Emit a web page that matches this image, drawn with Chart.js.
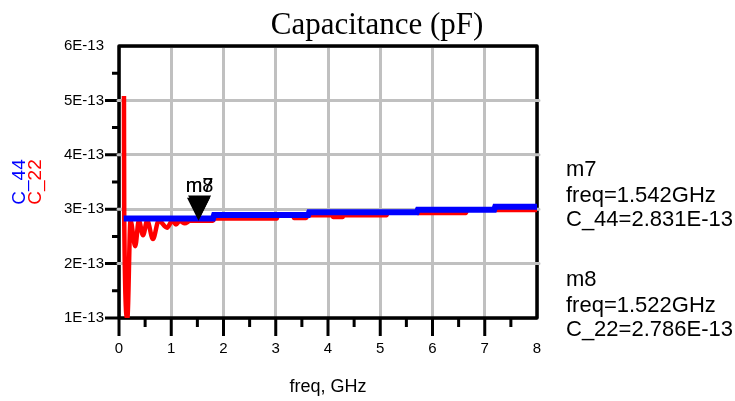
<!DOCTYPE html>
<html lang="en">
<head>
<meta charset="UTF-8">
<title>Capacitance (pF)</title>
<script src="https://cdn.jsdelivr.net/npm/chart.js@4.4.1/dist/chart.umd.min.js"></script>
<style>
  html, body { margin: 0; padding: 0; background: #ffffff; }
  #wrap { width: 735px; height: 401px; }
</style>
</head>
<body>
<div id="wrap"><canvas id="cap-chart" width="735" height="401"></canvas></div>
<script>
// capacitance values below are in units of 1E-13 F, frequency in GHz
const freqTicks = [0, 1, 2, 3, 4, 5, 6, 7, 8];
const capTicks = [1, 2, 3, 4, 5, 6];

const c44Freq = [0.09, 1.80, 1.82, 3.62, 3.64, 5.70, 5.72, 7.18, 7.20, 8.00];
const c44Val  = [2.831, 2.831, 2.894, 2.894, 2.946, 2.946, 2.992, 2.992, 3.047, 3.047];

const c22Freq = [0.095, 0.10, 0.16, 0.22, 0.31, 0.38, 0.46, 0.54, 0.65, 0.76, 0.92, 1.02, 1.09, 1.16, 1.26, 1.36,
                 1.80, 1.82, 3.02, 3.04, 3.33, 3.35, 3.58, 3.62, 4.08, 4.10, 4.28, 4.30, 5.12, 5.14,
                 5.70, 5.72, 6.64, 6.66, 7.20, 7.22, 8.00];
const c22Val  = [5.08, 2.79, 1.00, 2.79, 2.32, 2.79, 2.52, 2.79, 2.45, 2.79, 2.66, 2.79, 2.72, 2.786, 2.74, 2.786,
                 2.786, 2.83, 2.83, 2.894, 2.894, 2.84, 2.84, 2.89, 2.89, 2.855, 2.855, 2.89, 2.89, 2.946,
                 2.946, 2.93, 2.93, 2.992, 2.992, 2.985, 2.985];

const markers = [
  { name: 'm8', freq: 1.522, trace: 'C_22', value: 2.786, readY: 286 },
  { name: 'm7', freq: 1.542, trace: 'C_44', value: 2.831, readY: 176 }
];

const toPoints = (fs, vs) => fs.map((f, i) => ({ x: f, y: vs[i] }));
const sans = 'Liberation Sans, Arial, sans-serif';

// frame, tick marks, marker triangles and readouts
const adsFrame = {
  id: 'adsFrame',
  beforeDatasetsDraw(chart) {
    const { ctx, chartArea: a, scales: { x, y } } = chart;
    ctx.save();
    ctx.strokeStyle = '#000';
    ctx.lineWidth = 3.5;
    ctx.lineJoin = 'round';
    ctx.strokeRect(a.left, a.top, a.right - a.left, a.bottom - a.top);

    ctx.lineWidth = 3;
    ctx.lineCap = 'butt';
    ctx.beginPath();
    for (let v = 1; v < 6; v += 0.5) {
      const py = y.getPixelForValue(v);
      ctx.moveTo(a.left - (Number.isInteger(v) ? 14 : 7), py);
      ctx.lineTo(a.left, py);
    }
    for (let v = 0; v < 8; v += 0.5) {
      const px = x.getPixelForValue(v);
      ctx.moveTo(px, a.bottom);
      ctx.lineTo(px, a.bottom + (Number.isInteger(v) ? 18 : 9));
    }
    ctx.stroke();

    // grid stubs over the side frame
    ctx.strokeStyle = '#c0c0c0';
    ctx.lineCap = 'round';
    ctx.beginPath();
    for (let v = 2; v <= 5; v++) {
      const py = y.getPixelForValue(v);
      ctx.moveTo(a.left - 1, py); ctx.lineTo(a.left + 4, py);
      ctx.moveTo(a.right - 4, py); ctx.lineTo(a.right + 2, py);
    }
    ctx.stroke();
    ctx.restore();
  },
  afterDraw(chart) {
    const { ctx, scales: { x, y } } = chart;
    ctx.save();

    // title
    ctx.fillStyle = '#000';
    ctx.font = '31px "Liberation Serif", "Times New Roman", serif';
    ctx.textAlign = 'center';
    ctx.textBaseline = 'alphabetic';
    ctx.fillText('Capacitance (pF)', 377, 34);

    // trace names along the y axis
    ctx.font = '19px ' + sans;
    [['C_44', '#0000ff', 25], ['C_22', '#ff0000', 41]].forEach(([t, c, bx]) => {
      ctx.save();
      ctx.translate(bx, 182);
      ctx.rotate(-Math.PI / 2);
      ctx.fillStyle = c;
      ctx.textAlign = 'center';
      ctx.fillText(t, 0, 0);
      ctx.restore();
    });

    // marker triangles and their names
    markers.forEach(m => {
      const px = x.getPixelForValue(m.freq);
      const py = y.getPixelForValue(m.value);
      ctx.fillStyle = '#000';
      ctx.beginPath();
      ctx.moveTo(px, py);
      ctx.lineTo(px - 11.5, py - 23);
      ctx.lineTo(px + 11.5, py - 23);
      ctx.closePath();
      ctx.fill();
    });
    ctx.font = '20px ' + sans;
    ctx.textAlign = 'center';
    markers.forEach(m => {
      const px = x.getPixelForValue(markers[1].freq);
      const py = y.getPixelForValue(markers[1].value);
      ctx.fillText(m.name, px, py - 26);
    });

    // readouts
    ctx.font = '22px ' + sans;
    ctx.textAlign = 'left';
    markers.forEach(m => {
      ctx.fillText(m.name, 566, m.readY);
      ctx.fillText('freq=' + m.freq.toFixed(3) + 'GHz', 566, m.readY + 26);
      ctx.fillText(m.trace + '=' + m.value.toFixed(3) + 'E-13', 566, m.readY + 50);
    });
    ctx.restore();
  }
};

const ctx = document.getElementById('cap-chart');
const chart = new Chart(ctx, {
  type: 'line',
  data: {
    datasets: [
      { label: 'C_44', data: toPoints(c44Freq, c44Val), borderColor: '#0000ff', borderWidth: 6,
        pointRadius: 0, tension: 0, fill: false },
      { label: 'C_22', data: toPoints(c22Freq, c22Val), borderColor: '#ff0000', borderWidth: 4.5,
        pointRadius: 0, cubicInterpolationMode: 'monotone', fill: false }
    ]
  },
  options: {
    responsive: false,
    animation: false,
    devicePixelRatio: 1,
    layout: { padding: { left: 0, top: 46, right: 198, bottom: 0 } },
    plugins: { legend: { display: false }, tooltip: { enabled: false } },
    scales: {
      x: {
        type: 'linear', min: 0, max: 8,
        afterBuildTicks: s => { s.ticks = freqTicks.map(v => ({ value: v })); },
        afterFit: s => { s.height = 83; },
        grid: { color: '#c0c0c0', lineWidth: 3, drawTicks: false },
        border: { display: false },
        ticks: { color: '#000', font: { family: sans, size: 15 }, padding: 22, maxRotation: 0 },
        title: { display: true, text: 'freq, GHz', color: '#000',
                 font: { family: sans, size: 18 }, padding: { top: 0, bottom: 3 } }
      },
      y: {
        type: 'linear', min: 1, max: 6,
        afterBuildTicks: s => { s.ticks = capTicks.map(v => ({ value: v })); },
        afterFit: s => { s.width = 119; },
        grid: { color: '#c0c0c0', lineWidth: 3, drawTicks: false },
        border: { display: false },
        ticks: { color: '#000', font: { family: sans, size: 15 }, padding: 15,
                 callback: v => v + 'E-13' }
      }
    }
  },
  plugins: [adsFrame]
});
</script>
</body>
</html>
